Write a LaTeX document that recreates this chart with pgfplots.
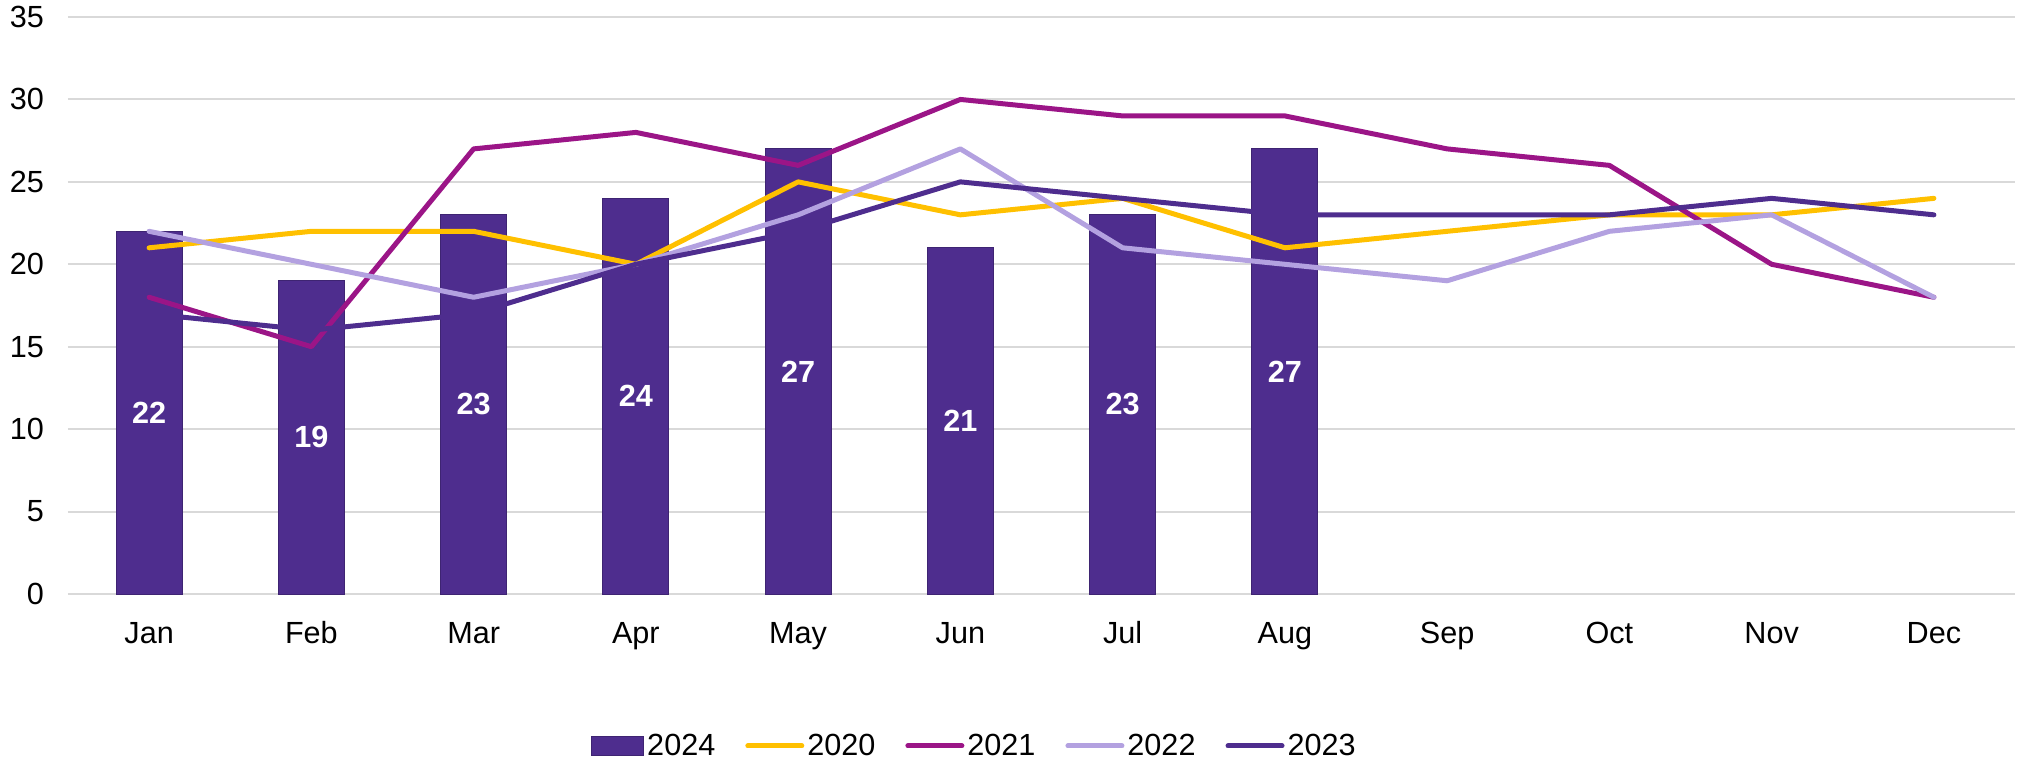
\documentclass[border=0pt]{standalone}
\usepackage{fontspec}
\setmainfont{Liberation Sans}
\usepackage{pgfplots}
\pgfplotsset{compat=1.18}
\definecolor{c24}{RGB}{78,45,142}
\definecolor{c20}{RGB}{255,192,0}
\definecolor{c21}{RGB}{155,21,135}
\definecolor{c22}{RGB}{179,161,224}
\definecolor{c23}{RGB}{78,45,142}
\definecolor{gridgray}{RGB}{217,217,217}
\newcommand{\fs}{\fontsize{15.3}{18}\selectfont}
\pgfplotsset{
  barleg/.style={legend image code/.code={\draw[##1] (0pt,-4.75pt) rectangle (26pt,4.75pt);}},
  lineleg/.style={legend image code/.code={\draw[##1, line cap=round] (0pt,0pt) -- (27pt,0pt);}},
}
\begin{document}
\begin{tikzpicture}
\useasboundingbox (-34pt,-86.5pt) rectangle (975pt,297pt);
\begin{axis}[
  scale only axis, width=973.5pt, height=288.5pt,
  at={(0pt,0pt)}, anchor=south west,
  xmin=-0.5, xmax=11.5, ymin=0, ymax=35,
  xtick={0,1,2,3,4,5,6,7,8,9,10,11},
  xticklabels={Jan,Feb,Mar,Apr,May,Jun,Jul,Aug,Sep,Oct,Nov,Dec},
  ytick={0,5,10,15,20,25,30,35},
  ymajorgrids, grid style={line width=1pt, draw=gridgray},
  axis line style={draw=none},
  major tick length=0pt,
  tick label style={font=\fs},
  /pgf/number format/assume math mode=true,
  yticklabel style={anchor=east, xshift=-8.5pt},
  xticklabel style={anchor=base, yshift=-24.5pt},
  legend columns=5,
  legend style={at={(0.4658,-0.2634)}, anchor=center, draw=none, fill=none, font=\fs,
    nodes={inner xsep=1.5pt},
    /tikz/every even column/.append style={column sep=13.5pt}},
  legend cell align=left,
  lineleg,
]
\addplot[ybar, bar width=33pt, bar shift=0pt, fill=c24, draw=c24!80!black, line width=0.5pt,
  barleg,
  nodes near coords,
  visualization depends on={rawy \as \rawy},
  every node near coord/.append style={font=\fs\bfseries, text=white, anchor=center,
     shift={(axis direction cs:0,-\rawy/2)}}]
  coordinates {(0,22) (1,19) (2,23) (3,24) (4,27) (5,21) (6,23) (7,27)};
\addlegendentry{2024}
\addplot[c20, line width=2.5pt, line join=round, line cap=round, mark=none]
  coordinates {(0,21) (1,22) (2,22) (3,20) (4,25) (5,23) (6,24) (7,21) (8,22) (9,23) (10,23) (11,24)};
\addlegendentry{2020}
\addplot[c21, line width=2.5pt, line join=round, line cap=round, mark=none]
  coordinates {(0,18) (1,15) (2,27) (3,28) (4,26) (5,30) (6,29) (7,29) (8,27) (9,26) (10,20) (11,18)};
\addlegendentry{2021}
\addplot[c22, line width=2.5pt, line join=round, line cap=round, mark=none]
  coordinates {(0,22) (1,20) (2,18) (3,20) (4,23) (5,27) (6,21) (7,20) (8,19) (9,22) (10,23) (11,18)};
\addlegendentry{2022}
\addplot[c23, line width=2.5pt, line join=round, line cap=round, mark=none]
  coordinates {(0,17) (1,16) (2,17) (3,20) (4,22) (5,25) (6,24) (7,23) (8,23) (9,23) (10,24) (11,23)};
\addlegendentry{2023}
\end{axis}
\end{tikzpicture}
\end{document}
